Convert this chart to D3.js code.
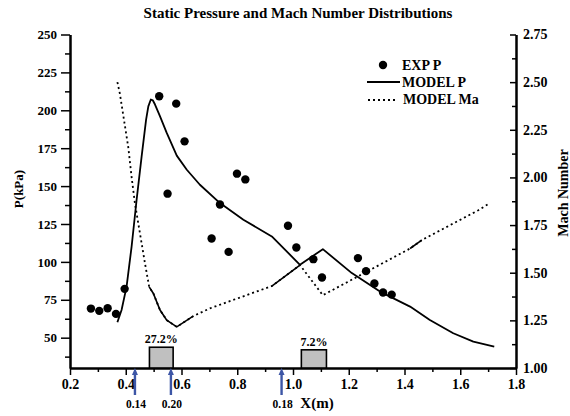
<!DOCTYPE html>
<html>
<head>
<meta charset="utf-8">
<script src="https://cdn.jsdelivr.net/npm/d3@7"></script>
<style>
  body { margin: 0; background: #fff; }
  svg text { font-family: "Liberation Serif", "Times New Roman", serif; font-weight: bold; fill: #000; }
  .axis path, .axis line { stroke: #000; }
  .axis path { stroke-width: 2; }
  .axis line { stroke-width: 1.5; }
</style>
</head>
<body>
<div id="chart"></div>
<script>
// experimental static pressure (kPa)
const expX = [0.275, 0.305, 0.335, 0.365, 0.396, 0.520, 0.550, 0.581, 0.611, 0.708, 0.738, 0.769,
              0.799, 0.829, 0.982, 1.012, 1.073, 1.104, 1.233, 1.262, 1.292, 1.323, 1.354];
const expP = [69.2, 67.7, 69.4, 65.7, 82.2, 209.3, 145.0, 204.4, 179.5, 115.4, 137.9, 106.6,
              158.2, 154.4, 123.8, 109.5, 101.8, 89.7, 102.5, 93.9, 85.7, 79.8, 78.4];

// model static pressure (kPa)
const modelPX = [0.370, 0.385, 0.403, 0.421, 0.439, 0.457, 0.473, 0.481, 0.490, 0.497, 0.505, 0.523,
                 0.547, 0.583, 0.619, 0.666, 0.738, 0.822, 0.924, 1.025, 1.107, 1.211, 1.312, 1.420,
                 1.491, 1.575, 1.647, 1.722];
const modelP = [60.2, 68.3, 83.7, 110.1, 141.0, 169.6, 193.9, 202.6, 207.1, 206.6, 203.8, 196.0,
                185.1, 170.1, 160.8, 150.9, 138.8, 127.8, 116.8, 98.1, 108.4, 92.6, 80.4, 70.5,
                61.7, 52.9, 47.4, 44.1];

// model Mach number
const modelMaX = [0.370, 0.379, 0.394, 0.409, 0.421, 0.433, 0.451, 0.469, 0.484, 0.499, 0.523, 0.547,
                  0.583, 0.642, 0.702, 0.810, 0.924, 1.025, 1.107, 1.420, 1.462, 1.665, 1.707];
const modelMa = [2.500, 2.439, 2.299, 2.159, 2.002, 1.863, 1.706, 1.549, 1.426, 1.391, 1.304, 1.251,
                 1.216, 1.272, 1.313, 1.370, 1.430, 1.540, 1.382, 1.627, 1.671, 1.828, 1.866];

// injection blocks: start, end, height (kPa), label
const blockX0 = [0.485, 1.030];
const blockX1 = [0.570, 1.120];
const blockTop = [43.7, 42.0];
const blockLabels = ["27.2%", "7.2%"];

// injection positions marked by arrows
const arrowX = [0.433, 0.562, 0.959];
const arrowLabels = ["0.14", "0.20", "0.18"];

const xTicks = [0.2, 0.4, 0.6, 0.8, 1.0, 1.2, 1.4, 1.6, 1.8];
const pTicks = [50, 75, 100, 125, 150, 175, 200, 225, 250];
const maTicks = [1.00, 1.25, 1.50, 1.75, 2.00, 2.25, 2.50, 2.75];

const width = 570, height = 416;
const plot = {left: 70, right: 516, top: 34.5, bottom: 368};

const svg = d3.select("#chart").append("svg")
    .attr("width", width)
    .attr("height", height);

const x = d3.scaleLinear().domain([0.2, 1.8]).range([plot.left, plot.right]);
const yP = d3.scaleLinear().domain([30, 250]).range([plot.bottom, plot.top]);
const yM = d3.scaleLinear().domain([1, 2.75]).range([plot.bottom, plot.top]);

// minor tick positions halfway between the majors
const minors = (ticks, lo) => ticks.slice(0, -1).map((t, i) => (t + ticks[i + 1]) / 2).concat(lo);

// x axis
svg.append("g").attr("class", "axis")
    .attr("transform", `translate(0,${plot.bottom})`)
    .call(d3.axisBottom(x).tickValues(minors(xTicks, [])).tickSize(4).tickSizeOuter(0).tickFormat(""));
svg.append("g").attr("class", "axis")
    .attr("transform", `translate(0,${plot.bottom})`)
    .call(d3.axisBottom(x).tickValues(xTicks).tickSize(7).tickSizeOuter(0).tickPadding(4)
        .tickFormat(d3.format(".1f")))
    .selectAll("text").style("font-size", "14px");

// left axis
svg.append("g").attr("class", "axis")
    .attr("transform", `translate(${plot.left},0)`)
    .call(d3.axisLeft(yP).tickValues(minors(pTicks, [37.5])).tickSize(5).tickSizeOuter(0).tickFormat(""));
svg.append("g").attr("class", "axis")
    .attr("transform", `translate(${plot.left},0)`)
    .call(d3.axisLeft(yP).tickValues(pTicks).tickSize(9).tickSizeOuter(0).tickPadding(4))
    .selectAll("text").style("font-size", "13px");

// right axis, ticks drawn inwards
svg.append("g").attr("class", "axis")
    .attr("transform", `translate(${plot.right},0)`)
    .call(d3.axisRight(yM).tickValues(minors(maTicks, [])).tickSize(-4).tickSizeOuter(0).tickFormat(""));
svg.append("g").attr("class", "axis")
    .attr("transform", `translate(${plot.right},0)`)
    .call(d3.axisRight(yM).tickValues(maTicks).tickSize(-6).tickSizeOuter(0).tickPadding(7)
        .tickFormat(d3.format(".2f")))
    .selectAll("text").style("font-size", "14px");

// titles
svg.append("text").attr("x", 298).attr("y", 18).attr("text-anchor", "middle")
    .style("font-size", "15px").text("Static Pressure and Mach Number Distributions");
svg.append("text").attr("x", 317).attr("y", 408).attr("text-anchor", "middle")
    .style("font-size", "15px").text("X(m)");
svg.append("text").attr("transform", "translate(23,189) rotate(-90)").attr("text-anchor", "middle")
    .style("font-size", "13px").text("P(kPa)");
svg.append("text").attr("transform", "translate(568,193) rotate(-90)").attr("text-anchor", "middle")
    .style("font-size", "14px").text("Mach Number");

// injection blocks
const blocks = blockX0.map((d, i) => ({x0: d, x1: blockX1[i], top: blockTop[i], label: blockLabels[i]}));
svg.selectAll("rect.block").data(blocks).enter().append("rect")
    .attr("class", "block")
    .attr("x", d => x(d.x0))
    .attr("y", d => yP(d.top))
    .attr("width", d => x(d.x1) - x(d.x0))
    .attr("height", d => plot.bottom - yP(d.top))
    .attr("fill", "#c0c0c0").attr("stroke", "#000").attr("stroke-width", 1.6);
svg.selectAll("text.block").data(blocks).enter().append("text")
    .attr("x", d => (x(d.x0) + x(d.x1)) / 2)
    .attr("y", d => yP(d.top) - 4)
    .attr("text-anchor", "middle").style("font-size", "12px")
    .text(d => d.label);

// lines
const pLine = d3.line().x(d => x(d[0])).y(d => yP(d[1]));
const mLine = d3.line().x(d => x(d[0])).y(d => yM(d[1]));
const pData = modelPX.map((d, i) => [d, modelP[i]]);
const mData = modelMaX.map((d, i) => [d, modelMa[i]]);

svg.append("path").datum(mData).attr("d", mLine)
    .attr("fill", "none").attr("stroke", "#000").attr("stroke-width", 1.8)
    .attr("stroke-dasharray", "2,3");
// parts of the Mach curve that print as solid in the original
[[8, 13], [16, 17], [19, 20]].forEach(([a, b]) => {
    svg.append("path").datum(mData.slice(a, b + 1)).attr("d", mLine)
        .attr("fill", "none").attr("stroke", "#000").attr("stroke-width", 1.6);
});

svg.append("path").datum(pData).attr("d", pLine)
    .attr("fill", "none").attr("stroke", "#000").attr("stroke-width", 1.8)
    .attr("stroke-linejoin", "round");

// experimental points
svg.selectAll("circle.exp").data(expX.map((d, i) => [d, expP[i]])).enter().append("circle")
    .attr("class", "exp")
    .attr("cx", d => x(d[0])).attr("cy", d => yP(d[1])).attr("r", 4.2)
    .attr("fill", "#000");

// arrows under the axis
const blue = "#3d56a6";
arrowX.forEach((v, i) => {
    const ax = x(v);
    svg.append("line").attr("x1", ax).attr("x2", ax)
        .attr("y1", plot.bottom + 5).attr("y2", plot.bottom + 27)
        .attr("stroke", blue).attr("stroke-width", 2.4);
    svg.append("path")
        .attr("d", `M${ax},${plot.bottom} L${ax - 3},${plot.bottom + 7} L${ax + 3},${plot.bottom + 7} Z`)
        .attr("fill", blue);
    svg.append("text").attr("x", ax + 1).attr("y", 408).attr("text-anchor", "middle")
        .style("font-size", "11.5px").text(arrowLabels[i]);
});

// legend
const lg = svg.append("g");
lg.append("circle").attr("cx", 383).attr("cy", 65).attr("r", 4.2).attr("fill", "#000");
lg.append("text").attr("x", 402).attr("y", 69.5).style("font-size", "14px").text("EXP P");
lg.append("line").attr("x1", 367).attr("x2", 400).attr("y1", 82).attr("y2", 82)
    .attr("stroke", "#000").attr("stroke-width", 1.8);
lg.append("text").attr("x", 402).attr("y", 87).style("font-size", "14px").text("MODEL P");
lg.append("line").attr("x1", 368).attr("x2", 395).attr("y1", 100).attr("y2", 100)
    .attr("stroke", "#000").attr("stroke-width", 1.8).attr("stroke-dasharray", "2,3");
lg.append("text").attr("x", 403).attr("y", 104).style("font-size", "14px").text("MODEL Ma");
</script>
</body>
</html>
